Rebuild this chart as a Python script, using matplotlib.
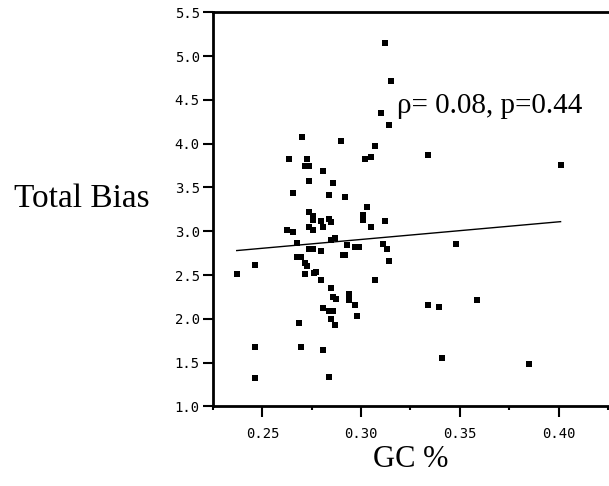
import matplotlib
matplotlib.use("Agg")
import matplotlib.pyplot as plt
from matplotlib.ticker import MultipleLocator

# GC fraction vs total bias
gc = [0.312, 0.315, 0.310, 0.314, 0.270, 0.290, 0.307, 0.302, 0.305, 0.2635,
      0.2724, 0.2714, 0.2735, 0.2805, 0.334, 0.401, 0.2653, 0.2735, 0.2856, 0.2836,
      0.2917, 0.3028, 0.3008, 0.3008, 0.305, 0.312, 0.2735, 0.2755, 0.2755, 0.2735,
      0.2755, 0.2798, 0.2805, 0.2836, 0.2849, 0.2623, 0.2653, 0.2674, 0.2846, 0.2866,
      0.2927, 0.2968, 0.2988, 0.2907, 0.2917, 0.3109, 0.313, 0.314, 0.348, 0.307,
      0.2735, 0.2755, 0.2798, 0.2674, 0.2694, 0.2714, 0.2724, 0.2714, 0.2759, 0.2770,
      0.237, 0.2461, 0.2798, 0.2846, 0.2856, 0.2874, 0.2937, 0.2937, 0.2968, 0.2978,
      0.2805, 0.2836, 0.2856, 0.2846, 0.2866, 0.3341, 0.3392, 0.3586, 0.3412, 0.3849,
      0.2805, 0.2836, 0.2684, 0.2694, 0.2461, 0.2461]
bias = [5.15, 4.71, 4.35, 4.21, 4.08, 4.03, 3.97, 3.83, 3.85, 3.83,
        3.82, 3.74, 3.74, 3.69, 3.87, 3.76, 3.44, 3.57, 3.55, 3.42,
        3.39, 3.28, 3.19, 3.13, 3.05, 3.12, 3.22, 3.17, 3.13, 3.05,
        3.01, 3.12, 3.05, 3.14, 3.11, 3.01, 2.99, 2.87, 2.90, 2.92,
        2.84, 2.82, 2.82, 2.73, 2.73, 2.85, 2.80, 2.66, 2.85, 2.44,
        2.80, 2.80, 2.78, 2.71, 2.71, 2.64, 2.60, 2.51, 2.52, 2.54,
        2.51, 2.62, 2.44, 2.35, 2.25, 2.23, 2.28, 2.22, 2.16, 2.03,
        2.12, 2.09, 2.09, 2.00, 1.93, 2.16, 2.14, 2.21, 1.55, 1.48,
        1.64, 1.34, 1.95, 1.68, 1.68, 1.32]

# regression line end points
fit_x = [0.237, 0.401]
fit_y = [2.78, 3.11]

serif = ["Liberation Serif", "DejaVu Serif"]
mono = "DejaVu Sans Mono"

fig = plt.figure(figsize=(6.09, 4.86), dpi=100)
ax = fig.add_axes([0.3498, 0.1636, 0.6485, 0.8111])

ax.plot(gc, bias, "s", color="black", markersize=4.2, markeredgewidth=0)
ax.plot(fit_x, fit_y, color="black", linewidth=1.0)

ax.set_xlim(0.225, 0.425)
ax.set_ylim(1.0, 5.5)
ax.xaxis.set_minor_locator(MultipleLocator(0.025))
ax.set_xticks([0.25, 0.30, 0.35, 0.40])
ax.set_xticklabels(["0.25", "0.30", "0.35", "0.40"])
ax.set_yticks([1.0, 1.5, 2.0, 2.5, 3.0, 3.5, 4.0, 4.5, 5.0, 5.5])
ax.set_yticklabels(["1.0", "1.5", "2.0", "2.5", "3.0", "3.5", "4.0", "4.5", "5.0", "5.5"])

for lab in ax.get_xticklabels() + ax.get_yticklabels():
    lab.set_family(mono)
    lab.set_fontsize(10)

ax.tick_params(axis="x", which="major", direction="out", length=8, width=1.5, pad=7)
ax.tick_params(axis="x", which="minor", direction="out", length=3, width=1.5)
ax.tick_params(axis="y", which="major", direction="out", length=7.5, width=1.5, pad=2)

ax.spines["right"].set_visible(False)
for s in ["left", "top", "bottom"]:
    ax.spines[s].set_linewidth(2)

ax.set_xlabel("GC %", family=serif, fontsize=22, labelpad=3)
fig.text(82 / 609, 1 - 206.7 / 486, "Total Bias", family=serif, fontsize=24,
         ha="center", va="baseline")
ax.text(0.318, 4.35, "ρ= 0.08, p=0.44", family=serif, fontsize=21,
        ha="left", va="baseline")

fig.savefig("out.png", dpi=100)
